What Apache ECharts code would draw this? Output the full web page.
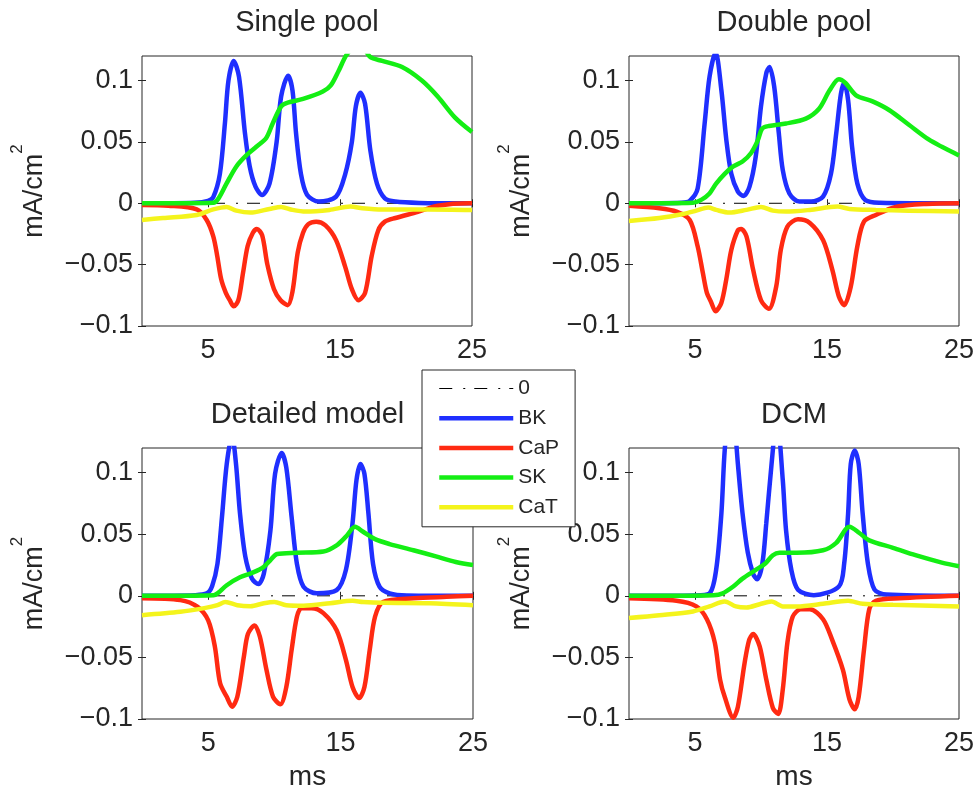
<!DOCTYPE html>
<html>
<head>
<meta charset="utf-8">
<script src="https://cdn.jsdelivr.net/npm/echarts@6/dist/echarts.min.js"></script>
<style>
  html, body { margin: 0; padding: 0; background: #fff; }
  #chart { width: 980px; height: 794px; }
</style>
</head>
<body>
<div id="chart"></div>
<script>
// ---- data: [time ms, current mA/cm2] ----
const panelTitles = ['Single pool', 'Double pool', 'Detailed model', 'DCM']
const seriesNames = ['0', 'BK', 'CaP', 'SK', 'CaT']
const xTickValues = [5, 15, 25]
const yTickValues = [-0.1, -0.05, 0, 0.05, 0.1]
const zeroLine = [[0, 0], [25, 0]]

// Single pool
const bkSingle = [[0, 0], [4, 0.0005], [5, 0.002], [5.4, 0.005], [5.9, 0.024], [6.28, 0.065], [6.55, 0.100], [6.95, 0.116], [7.35, 0.103], [7.8, 0.057], [8.16, 0.030], [8.6, 0.0136], [9.1, 0.0068], [9.66, 0.016], [10.2, 0.05], [10.54, 0.087], [11.07, 0.104], [11.4, 0.092], [11.67, 0.057], [12.04, 0.024], [12.5, 0.007], [13.4, 0.0014], [14.7, 0.0054], [15.4, 0.024], [15.9, 0.05], [16.2, 0.079], [16.55, 0.090], [16.9, 0.081], [17.3, 0.043], [17.8, 0.016], [18.4, 0.004], [19.2, 0.0014], [21, 0.0003], [25, 0]]
const capSingle = [[0, -0.0014], [2, -0.002], [4.15, -0.005], [4.9, -0.0136], [5.4, -0.027], [5.7, -0.043], [6.0, -0.062], [6.35, -0.073], [6.65, -0.079], [6.95, -0.084], [7.3, -0.079], [7.65, -0.057], [8.0, -0.035], [8.4, -0.024], [8.7, -0.021], [9.1, -0.026], [9.5, -0.05], [10.0, -0.07], [10.5, -0.079], [11.04, -0.083], [11.4, -0.072], [11.8, -0.04], [12.2, -0.024], [12.6, -0.017], [13.2, -0.015], [13.9, -0.018], [14.7, -0.03], [15.4, -0.052], [15.9, -0.07], [16.4, -0.079], [16.9, -0.073], [17.4, -0.043], [17.9, -0.022], [18.4, -0.015], [19.2, -0.012], [20.9, -0.007], [22.4, -0.002], [24.8, 0], [25, 0]]
const skSingle = [[0, 0], [5.4, 0.0005], [5.8, 0.004], [6.4, 0.016], [7.15, 0.030], [7.9, 0.039], [8.66, 0.046], [9.4, 0.053], [9.9, 0.065], [10.54, 0.079], [11.04, 0.082], [12.2, 0.085], [13.7, 0.091], [14.3, 0.096], [14.9, 0.108], [15.5, 0.121], [16.1, 0.127], [16.7, 0.127], [17.3, 0.119], [18.2, 0.116], [19.7, 0.111], [21.2, 0.100], [22.4, 0.087], [23.7, 0.070], [25, 0.058]]
const catSingle = [[0, -0.0136], [1.6, -0.012], [4.15, -0.0095], [5.4, -0.005], [6.4, -0.003], [7.15, -0.006], [8.2, -0.0076], [9.66, -0.0046], [10.54, -0.003], [11.4, -0.0054], [12.4, -0.0068], [14.2, -0.0054], [15.8, -0.0027], [16.7, -0.004], [18.2, -0.005], [21.7, -0.005], [25, -0.0054]]

// Double pool
const bkDouble = [[0, 0], [4, 0.0005], [4.6, 0.002], [5.2, 0.012], [5.73, 0.065], [6.1, 0.103], [6.56, 0.123], [7.0, 0.092], [7.37, 0.052], [7.75, 0.024], [8.25, 0.0095], [8.68, 0.006], [9.13, 0.0136], [9.6, 0.038], [10.0, 0.079], [10.4, 0.106], [10.64, 0.111], [11.0, 0.095], [11.35, 0.057], [11.65, 0.027], [12.15, 0.008], [12.9, 0.0014], [13.8, 0.0014], [14.7, 0.0054], [15.3, 0.024], [15.7, 0.057], [16.05, 0.089], [16.3, 0.098], [16.6, 0.084], [16.9, 0.046], [17.3, 0.016], [17.9, 0.0027], [19, 0.0005], [25, 0]]
const capDouble = [[0, -0.002], [2.3, -0.004], [3.6, -0.0068], [4.6, -0.0136], [5.2, -0.035], [5.6, -0.057], [5.9, -0.073], [6.2, -0.08], [6.56, -0.088], [7.0, -0.081], [7.37, -0.062], [7.75, -0.038], [8.25, -0.022], [8.5, -0.021], [8.9, -0.027], [9.4, -0.054], [10.0, -0.079], [10.6, -0.086], [11.15, -0.068], [11.5, -0.038], [12.0, -0.019], [12.8, -0.013], [13.7, -0.016], [14.7, -0.030], [15.4, -0.054], [15.9, -0.076], [16.3, -0.083], [16.8, -0.068], [17.3, -0.035], [17.8, -0.015], [18.7, -0.0095], [20.2, -0.003], [22.5, -0.0005], [25, 0]]
const skDouble = [[0, 0], [4.85, 0.0005], [5.5, 0.003], [6.1, 0.008], [6.6, 0.016], [7.25, 0.024], [7.9, 0.030], [8.6, 0.034], [9.25, 0.041], [9.75, 0.051], [10.1, 0.061], [10.6, 0.063], [11.9, 0.065], [13.4, 0.069], [14.4, 0.077], [15.2, 0.092], [15.9, 0.101], [16.4, 0.098], [17.2, 0.088], [18.45, 0.083], [19.7, 0.076], [21.2, 0.064], [22.7, 0.052], [23.7, 0.046], [25, 0.039]]
const catDouble = [[0, -0.0144], [2.3, -0.012], [4.1, -0.0087], [5.1, -0.006], [6.0, -0.0035], [6.6, -0.0054], [7.6, -0.0076], [8.9, -0.0054], [10.0, -0.003], [10.9, -0.006], [11.9, -0.0068], [13.7, -0.0054], [15.8, -0.0027], [16.7, -0.0046], [18.7, -0.0054], [21.2, -0.006], [25, -0.0068]]

// Detailed model
const bkDetailed = [[0, 0], [4, 0.0005], [4.9, 0.002], [5.3, 0.008], [5.7, 0.026], [6.04, 0.064], [6.4, 0.107], [6.8, 0.13], [7.1, 0.107], [7.4, 0.067], [7.8, 0.032], [8.3, 0.014], [8.8, 0.0095], [9.2, 0.018], [9.7, 0.053], [10.05, 0.099], [10.55, 0.116], [10.9, 0.104], [11.3, 0.064], [11.7, 0.026], [12.2, 0.0073], [13.2, 0.002], [14.7, 0.0046], [15.4, 0.021], [15.9, 0.059], [16.2, 0.094], [16.5, 0.107], [16.8, 0.099], [17.1, 0.067], [17.45, 0.026], [17.95, 0.0073], [18.7, 0.002], [20, 0.0003], [25, 0]]
const capDetailed = [[0, -0.002], [2.9, -0.0035], [4.2, -0.009], [5.0, -0.020], [5.5, -0.041], [5.9, -0.071], [6.4, -0.082], [6.8, -0.090], [7.2, -0.082], [7.7, -0.049], [8.0, -0.031], [8.5, -0.024], [8.9, -0.033], [9.4, -0.060], [9.9, -0.082], [10.45, -0.088], [10.9, -0.074], [11.3, -0.044], [11.7, -0.017], [12.05, -0.010], [12.8, -0.010], [13.7, -0.014], [14.7, -0.028], [15.4, -0.052], [15.9, -0.074], [16.4, -0.083], [16.8, -0.074], [17.2, -0.044], [17.6, -0.017], [18.2, -0.005], [20.5, -0.002], [23, -0.0008], [25, 0]]
const skDetailed = [[0, 0], [5.4, 0.0005], [5.7, 0.002], [6.4, 0.0086], [7.4, 0.015], [8.4, 0.019], [9.2, 0.0235], [9.7, 0.029], [10.2, 0.034], [11.7, 0.035], [13.7, 0.036], [14.7, 0.041], [15.4, 0.048], [16.1, 0.056], [16.7, 0.052], [17.6, 0.046], [18.7, 0.042], [20.5, 0.037], [22.2, 0.032], [23.7, 0.0275], [25, 0.025]]
const catDetailed = [[0, -0.0157], [2.9, -0.013], [4.7, -0.010], [5.7, -0.0076], [6.3, -0.005], [7.2, -0.0076], [8.2, -0.0084], [9.2, -0.006], [10.0, -0.005], [10.9, -0.0076], [12.2, -0.008], [14.2, -0.006], [15.9, -0.004], [16.7, -0.005], [18.2, -0.0057], [21.7, -0.006], [25, -0.0076]]

// DCM
const bkDCM = [[0, 0], [5, 0.0003], [6.1, 0.002], [6.6, 0.021], [7.0, 0.067], [7.25, 0.118], [7.7, 0.165], [8.0, 0.14], [8.25, 0.107], [8.6, 0.067], [9.0, 0.035], [9.4, 0.018], [9.7, 0.0135], [10.1, 0.026], [10.4, 0.059], [10.8, 0.107], [11.2, 0.145], [11.65, 0.094], [11.9, 0.053], [12.3, 0.021], [12.8, 0.005], [14.0, 0.0005], [15.9, 0.0076], [16.3, 0.026], [16.6, 0.067], [16.8, 0.107], [17.1, 0.118], [17.4, 0.107], [17.7, 0.067], [18.1, 0.026], [18.6, 0.005], [19.5, 0.001], [25, 0]]
const capDCM = [[0, -0.002], [3.6, -0.004], [5.1, -0.0086], [5.9, -0.019], [6.5, -0.038], [6.9, -0.068], [7.25, -0.082], [7.9, -0.099], [8.25, -0.090], [8.75, -0.055], [9.1, -0.036], [9.4, -0.031], [9.9, -0.041], [10.4, -0.068], [10.9, -0.091], [11.3, -0.096], [11.65, -0.076], [12.0, -0.038], [12.4, -0.017], [13.0, -0.011], [13.7, -0.011], [14.7, -0.019], [15.4, -0.036], [16.2, -0.060], [16.7, -0.084], [17.1, -0.092], [17.4, -0.082], [17.8, -0.044], [18.2, -0.011], [18.7, -0.004], [20.5, -0.002], [25, 0]]
const skDCM = [[0, 0], [6.4, 0.0005], [7.1, 0.002], [7.9, 0.0076], [8.6, 0.014], [9.6, 0.021], [10.3, 0.026], [10.9, 0.033], [11.4, 0.035], [12.7, 0.035], [14.7, 0.037], [15.7, 0.043], [16.7, 0.056], [17.45, 0.051], [18.2, 0.045], [20.0, 0.039], [21.7, 0.033], [23.7, 0.027], [25, 0.024]]
const catDCM = [[0, -0.018], [2.3, -0.0158], [4.85, -0.0127], [6.1, -0.0086], [7.25, -0.0046], [8.1, -0.0086], [8.9, -0.0095], [9.9, -0.0068], [10.8, -0.0046], [11.65, -0.0086], [12.7, -0.0086], [14.7, -0.0065], [16.6, -0.004], [17.7, -0.0065], [20.0, -0.0073], [25, -0.0086]]

const panelSeries = [
  [zeroLine, bkSingle, capSingle, skSingle, catSingle],
  [zeroLine, bkDouble, capDouble, skDouble, catDouble],
  [zeroLine, bkDetailed, capDetailed, skDetailed, catDetailed],
  [zeroLine, bkDCM, capDCM, skDCM, catDCM]
]

// ---- layout & styles ----
const fontFamily = '"Liberation Sans", Arial, Helvetica, sans-serif'
const ink = '#262626'
const lineColors = ['#000000', '#1f2fff', '#ff2a12', '#14ee14', '#f4f41c']
const lineWidths = [1, 4.5, 4.5, 4.5, 4.5]
const gridBoxes = [
  { left: 142, top: 56, width: 330, height: 270, titleTop: 8 },
  { left: 629, top: 56, width: 330, height: 270, titleTop: 8 },
  { left: 142, top: 448, width: 331, height: 271, titleTop: 400 },
  { left: 629, top: 448, width: 330, height: 271, titleTop: 400 }
]

function fmtY (v) {
  if (v === 0) return '0'
  return v < 0 ? '\u2212' + String(-v) : String(v)
}

const chart = echarts.init(document.getElementById('chart'))
const option = {
  backgroundColor: '#fff',
  animation: false,
  title: [],
  grid: [],
  xAxis: [],
  yAxis: [],
  series: [],
  legend: {
    data: seriesNames.map((n, k) => ({ name: n, lineStyle: { width: lineWidths[k] } })),
    orient: 'vertical',
    left: 422,
    top: 370,
    padding: [8, 16, 9, 15],
    itemWidth: 74,
    itemHeight: 20,
    itemGap: 8.7,
    backgroundColor: '#fff',
    borderColor: ink,
    borderWidth: 1,
    selectedMode: false,
    itemStyle: { color: 'transparent', borderColor: 'transparent', borderWidth: 0 },
    textStyle: { fontFamily: fontFamily, fontSize: 21, color: ink }
  }
}

panelTitles.forEach((title, i) => {
  const g = gridBoxes[i]
  option.grid.push({
    left: g.left, top: g.top, width: g.width, height: g.height,
    show: true, borderColor: ink, borderWidth: 1, backgroundColor: 'transparent'
  })
  option.title.push({
    text: title,
    left: g.left + g.width / 2,
    top: g.titleTop,
    textAlign: 'center',
    padding: 0,
    textStyle: { fontFamily: fontFamily, fontSize: 29, fontWeight: 'normal', color: ink }
  })
  const tickStyle = { show: true, inside: true, length: 4, lineStyle: { color: ink, width: 1 } }
  // bottom / top x axes
  option.xAxis.push({
    gridIndex: i, type: 'value', position: 'bottom', min: 0, max: 25,
    splitLine: { show: false }, axisLine: { show: false },
    axisTick: Object.assign({ customValues: xTickValues }, tickStyle),
    axisLabel: { customValues: xTickValues, margin: 11, fontFamily: fontFamily, fontSize: 27, color: ink },
    name: i >= 2 ? 'ms' : '', nameLocation: 'middle', nameGap: 44,
    nameTextStyle: { fontFamily: fontFamily, fontSize: 28, color: ink }
  })
  option.xAxis.push({
    gridIndex: i, type: 'value', position: 'top', min: 0, max: 25,
    splitLine: { show: false }, axisLine: { show: false },
    axisTick: Object.assign({ customValues: xTickValues }, tickStyle),
    axisLabel: { show: false }
  })
  // left / right y axes
  option.yAxis.push({
    gridIndex: i, type: 'value', position: 'left', min: -0.1, max: 0.12,
    splitLine: { show: false }, axisLine: { show: false },
    axisTick: Object.assign({ customValues: yTickValues }, tickStyle),
    axisLabel: { customValues: yTickValues, formatter: fmtY, margin: 9, fontFamily: fontFamily, fontSize: 27, color: ink },
    name: 'mA/cm{sup|2}', nameLocation: 'middle', nameRotate: 90, nameGap: 82,
    nameTextStyle: {
      fontFamily: fontFamily, fontSize: 27, color: ink,
      rich: { sup: { fontFamily: fontFamily, fontSize: 17, color: ink, padding: [0, 0, 34, 0] } }
    }
  })
  option.yAxis.push({
    gridIndex: i, type: 'value', position: 'right', min: -0.1, max: 0.12,
    splitLine: { show: false }, axisLine: { show: false },
    axisTick: Object.assign({ customValues: yTickValues }, tickStyle),
    axisLabel: { show: false }
  })
  panelSeries[i].forEach((pts, k) => {
    option.series.push({
      name: seriesNames[k],
      type: 'line',
      xAxisIndex: 2 * i,
      yAxisIndex: 2 * i,
      data: pts,
      symbol: 'none',
      smooth: k === 0 ? false : 0.3,
      silent: true,
      itemStyle: { color: lineColors[k] },
      lineStyle: { color: lineColors[k], width: lineWidths[k], type: k === 0 ? [13, 11, 2, 9] : 'solid' }
    })
  })
})

chart.setOption(option)
</script>
</body>
</html>
